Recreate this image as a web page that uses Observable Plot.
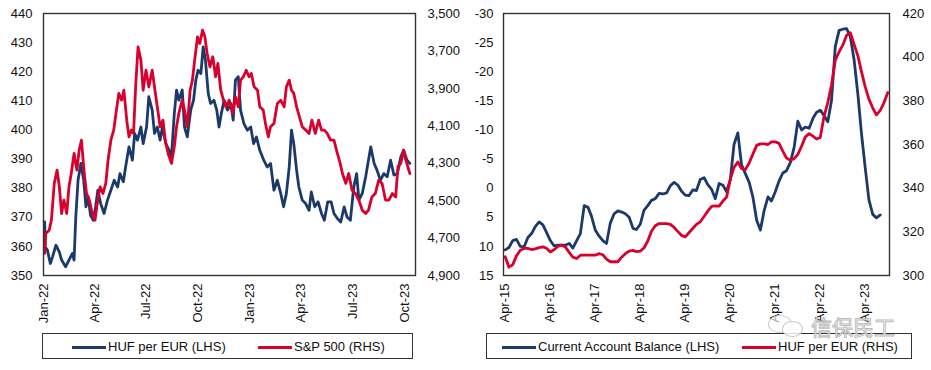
<!DOCTYPE html>
<html>
<head>
<meta charset="utf-8">
<script src="https://cdn.jsdelivr.net/npm/d3@7"></script>
<script src="https://cdn.jsdelivr.net/npm/@observablehq/plot@0.6"></script>
<style>
  body { margin: 0; background: #fff; font-family: "Liberation Sans", Arial, sans-serif; }
  #wrap { position: relative; width: 931px; height: 370px; overflow: hidden; }
  .panel { position: absolute; top: 0; }
  .legend { position: absolute; border: 1px solid #333; box-sizing: border-box; height: 26px; font-size: 13px; color: #111; }
  .item { position: absolute; top: 1px; height: 24px; display: flex; align-items: center; white-space: nowrap; line-height: 14px; }
  .sw { display: inline-block; width: 34px; height: 3px; margin-right: 2px; }
  .wm { position: absolute; z-index: 5; pointer-events: none; }
</style>
</head>
<body>
<div id="wrap">
  <div id="left" class="panel" style="left:0"></div>
  <div id="right" class="panel" style="left:465px"></div>
  <div class="legend" style="left:42px; top:333px; width:371px;">
    <div class="item" style="left:29px"><span class="sw" style="background:#1B3A6B"></span><span id="lg1"></span></div>
    <div class="item" style="left:215px"><span class="sw" style="background:#D9002E"></span><span id="lg2"></span></div>
  </div>
  <div class="legend" style="left:486px; top:333px; width:426px;">
    <div class="item" style="left:15px"><span class="sw" style="background:#1B3A6B"></span><span id="lg3"></span></div>
    <div class="item" style="left:255px"><span class="sw" style="background:#D9002E"></span><span id="lg4"></span></div>
  </div>
  <div class="wm" style="left:768px; top:315px; width:22px; height:16px; border:1.5px solid #c8c8c8; border-radius:50%; background:rgba(255,255,255,0.6)"></div>
  <div class="wm" style="left:782px; top:321px; width:19px; height:14px; border:1.5px solid #c8c8c8; border-radius:50%; background:rgba(255,255,255,0.8)"></div>
  <div class="wm" style="left:811px; top:316px; font-size:21px; line-height:21px; height:21px; font-family:'Noto Sans CJK SC', sans-serif; color:rgba(255,255,255,0.7); -webkit-text-stroke:1px #bdbdbd;">信保民工</div>
</div>
<script>
// ---------------- Left panel data ----------------
const leftSeriesNames = ["HUF per EUR (LHS)", "S&P 500 (RHS)"];
const hufEurDaily = [
["2022-01-03",368.4],["2022-01-04",359.8],["2022-01-08",358.7],["2022-01-13",354.1],["2022-01-17",356.4],
["2022-01-23",360.4],["2022-01-29",358.0],["2022-02-02",355.3],["2022-02-09",353.0],["2022-02-15",355.3],
["2022-02-21",357.6],["2022-02-24",355.3],["2022-02-27",370.0],["2022-03-03",382.7],["2022-03-08",388.5],
["2022-03-13",382.7],["2022-03-17",373.6],["2022-03-21",377.0],["2022-03-25",370.7],["2022-03-30",369.0],
["2022-04-03",373.6],["2022-04-07",379.3],["2022-04-12",374.7],["2022-04-18",371.3],["2022-04-24",375.9],
["2022-04-30",379.3],["2022-05-06",382.7],["2022-05-12",380.4],["2022-05-16",385.0],["2022-05-22",382.2],
["2022-05-26",387.3],["2022-06-01",394.2],["2022-06-07",389.6],["2022-06-11",398.8],["2022-06-16",396.5],
["2022-06-22",401.0],["2022-06-26",395.3],["2022-07-02",401.0],["2022-07-06",411.4],["2022-07-12",406.8],
["2022-07-16",398.8],["2022-07-21",401.0],["2022-07-26",396.5],["2022-07-30",401.0],["2022-08-05",395.3],
["2022-08-11",393.0],["2022-08-15",390.7],["2022-08-20",405.6],["2022-08-24",413.7],["2022-08-28",410.2],
["2022-09-03",413.7],["2022-09-07",401.0],["2022-09-12",397.6],["2022-09-18",406.8],["2022-09-23",410.2],
["2022-09-27",417.1],["2022-10-01",420.5],["2022-10-06",419.4],["2022-10-10",428.5],["2022-10-14",424.0],
["2022-10-19",412.5],["2022-10-23",409.1],["2022-10-29",410.2],["2022-11-03",406.8],["2022-11-07",401.0],
["2022-11-11",405.6],["2022-11-16",410.2],["2022-11-22",406.8],["2022-11-28",409.1],["2022-12-02",403.4],
["2022-12-06",417.1],["2022-12-11",418.3],["2022-12-15",406.8],["2022-12-21",402.2],["2022-12-27",399.9],
["2023-01-02",401.0],["2023-01-07",395.3],["2023-01-12",397.6],["2023-01-18",393.0],["2023-01-25",389.6],
["2023-01-31",387.3],["2023-02-06",388.5],["2023-02-12",379.3],["2023-02-18",382.7],["2023-02-24",378.2],
["2023-03-01",373.6],["2023-03-06",378.2],["2023-03-11",387.3],["2023-03-15",399.9],["2023-03-19",395.3],
["2023-03-24",386.2],["2023-03-28",380.4],["2023-04-03",375.9],["2023-04-09",374.7],["2023-04-15",372.4],
["2023-04-19",378.7],["2023-04-25",373.6],["2023-05-01",375.3],["2023-05-07",371.3],["2023-05-12",369.0],
["2023-05-18",375.3],["2023-05-24",375.3],["2023-05-29",371.3],["2023-06-04",369.6],["2023-06-10",368.4],
["2023-06-16",373.6],["2023-06-21",370.1],["2023-06-27",369.0],["2023-07-03",380.4],["2023-07-08",385.0],
["2023-07-12",375.9],["2023-07-18",378.2],["2023-07-24",383.9],["2023-08-02",394.2],["2023-08-08",388.5],
["2023-08-13",386.2],["2023-08-19",382.7],["2023-08-25",385.0],["2023-08-31",383.9],["2023-09-06",389.6],
["2023-09-12",384.5],["2023-09-18",385.0],["2023-09-24",390.7],["2023-09-29",393.0],["2023-10-05",389.6],
["2023-10-10",388.5]
];
const sp500Daily = [
["2022-01-03",4782],["2022-01-05",4675],["2022-01-11",4658],["2022-01-15",4604],["2022-01-20",4408],
["2022-01-25",4337],["2022-01-29",4426],["2022-02-02",4569],["2022-02-06",4497],["2022-02-11",4569],
["2022-02-15",4426],["2022-02-19",4355],["2022-02-24",4248],["2022-03-01",4337],["2022-03-05",4230],
["2022-03-09",4177],["2022-03-14",4355],["2022-03-18",4462],["2022-03-23",4497],["2022-03-28",4569],
["2022-04-02",4604],["2022-04-06",4515],["2022-04-11",4426],["2022-04-16",4462],["2022-04-21",4408],
["2022-04-25",4284],["2022-04-30",4177],["2022-05-05",4123],["2022-05-09",4034],["2022-05-14",3927],
["2022-05-19",3963],["2022-05-23",3910],["2022-05-28",4070],["2022-06-01",4159],["2022-06-05",4123],
["2022-06-09",4141],["2022-06-13",3874],["2022-06-17",3678],["2022-06-22",3749],["2022-06-26",3910],
["2022-07-01",3803],["2022-07-06",3892],["2022-07-12",3803],["2022-07-16",3892],["2022-07-21",3999],
["2022-07-26",4105],["2022-07-31",4070],["2022-08-04",4177],["2022-08-09",4248],["2022-08-15",4301],
["2022-08-20",4212],["2022-08-24",4105],["2022-08-28",4034],["2022-09-03",3963],["2022-09-07",4016],
["2022-09-12",4105],["2022-09-17",3910],["2022-09-21",3856],["2022-09-25",3749],["2022-09-30",3625],
["2022-10-04",3660],["2022-10-09",3589],["2022-10-13",3625],["2022-10-17",3714],["2022-10-22",3785],
["2022-10-27",3731],["2022-11-01",3838],["2022-11-05",3767],["2022-11-10",3910],["2022-11-15",3963],
["2022-11-19",3999],["2022-11-25",3963],["2022-12-01",4034],["2022-12-06",3945],["2022-12-11",3999],
["2022-12-15",3856],["2022-12-20",3838],["2022-12-25",3803],["2022-12-30",3838],["2023-01-03",3820],
["2023-01-08",3892],["2023-01-14",3910],["2023-01-18",3999],["2023-01-24",4016],["2023-01-28",4088],
["2023-02-02",4159],["2023-02-06",4105],["2023-02-12",4088],["2023-02-18",3981],["2023-02-24",3963],
["2023-03-02",3999],["2023-03-06",3892],["2023-03-11",3856],["2023-03-15",3910],["2023-03-19",3927],
["2023-03-24",3999],["2023-03-29",4052],["2023-04-03",4105],["2023-04-09",4123],["2023-04-15",4141],
["2023-04-20",4070],["2023-04-26",4141],["2023-05-02",4070],["2023-05-07",4123],["2023-05-12",4123],
["2023-05-17",4141],["2023-05-23",4177],["2023-05-29",4177],["2023-06-04",4248],["2023-06-09",4301],
["2023-06-13",4355],["2023-06-19",4408],["2023-06-24",4355],["2023-06-30",4444],["2023-07-06",4462],
["2023-07-12",4497],["2023-07-18",4551],["2023-07-24",4569],["2023-07-29",4551],["2023-08-04",4480],
["2023-08-10",4462],["2023-08-16",4390],["2023-08-22",4408],["2023-08-28",4497],["2023-09-03",4497],
["2023-09-09",4462],["2023-09-15",4480],["2023-09-19",4319],["2023-09-24",4301],["2023-09-29",4230],
["2023-10-03",4284],["2023-10-10",4355]
];
const leftAxisTicks = [350, 360, 370, 380, 390, 400, 410, 420, 430, 440];
const sp500AxisTicks = [3500, 3700, 3900, 4100, 4300, 4500, 4700, 4900];
const leftDateTicks = ["2022-01-01","2022-04-01","2022-07-01","2022-10-01","2023-01-01","2023-04-01","2023-07-01","2023-10-01"];

// ---------------- Right panel data (monthly, from Apr-2015) ----------------
const rightSeriesNames = ["Current Account Balance (LHS)", "HUF per EUR (RHS)"];
const monthlyStart = "2015-04-01";
const currentAccount = [
 10.6,10.2,9.0,8.8,10.0,10.1,8.5,7.8,6.6,5.8,
 6.3,7.6,9.0,9.9,9.8,9.8,9.8,9.5,10.3,9.0,
 7.8,3.0,3.3,4.8,7.2,8.2,9.0,9.5,6.0,4.4,
 3.9,4.1,4.4,5.0,6.9,7.1,6.2,3.8,3.0,2.1,
 1.8,0.9,1.0,0.8,-0.4,-1.0,-0.5,0.5,1.2,1.3,
 0.3,0.4,-1.5,-1.8,-0.6,0.2,1.8,-0.8,-0.5,0.6,
 -1.5,-7.5,-9.5,-4.0,-2.5,-1.0,1.5,5.5,7.2,3.8,
 1.5,2.2,0.6,-1.2,-2.6,-3.0,-4.4,-7.0,-11.5,-10.0,
 -10.5,-10.3,-12.0,-13.0,-13.4,-12.5,-11.4,-15.0,-24.3,-27.1,
 -27.3,-27.4,-26.0,-22.0,-16.0,-9.5,-3.5,2.0,4.5,5.1,
 4.6
];
const hufEurMonthly = [
 308.6,303.8,305.0,309.0,311.6,312.4,312.4,311.9,312.2,312.8,
 313.1,312.5,310.8,311.8,313.3,313.9,313.1,310.6,308.4,307.8,
 309.3,309.3,309.3,309.3,309.3,310.0,309.5,307.5,306.3,306.3,
 306.3,308.4,310.0,311.2,311.5,310.9,311.2,312.6,315.8,320.3,
 322.8,323.8,323.8,323.8,323.4,322.0,320.1,318.4,317.7,319.6,
 321.5,323.4,324.6,327.0,329.5,331.7,331.9,331.8,334.1,335.8,
 344.0,349.5,352.0,349.0,348.5,351.5,355.6,359.6,360.3,360.3,
 360.0,361.2,361.2,360.5,357.0,353.8,352.8,353.5,355.5,359.3,
 363.5,365.0,363.8,362.5,363.2,372.7,379.2,387.1,398.6,402.5,
 405.5,410.0,411.2,405.8,400.5,393.5,386.4,380.8,376.7,373.6,
 375.6,379.2,383.8
];
const caAxisTicks = [-30, -25, -20, -15, -10, -5, 0, 5, 10, 15];
const hufAxisTicks = [300, 320, 340, 360, 380, 400, 420];
const rightDateTicks = ["2015-04-01","2016-04-01","2017-04-01","2018-04-01","2019-04-01","2020-04-01","2021-04-01","2022-04-01","2023-04-01"];

// ---------------- Styles ----------------
const BLUE = "#1B3A6B";
const RED = "#D9002E";
const FONT = "'Liberation Sans', Arial, sans-serif";
const fmtMonth = d3.utcFormat("%b-%y");

document.getElementById("lg1").textContent = leftSeriesNames[0];
document.getElementById("lg2").textContent = leftSeriesNames[1];
document.getElementById("lg3").textContent = rightSeriesNames[0];
document.getElementById("lg4").textContent = rightSeriesNames[1];

// ---------------- Left chart ----------------
const L_MIN = 350, L_MAX = 440, S_MIN = 3500, S_MAX = 4900;
const spToLeft = s => L_MIN + (S_MAX - s) / (S_MAX - S_MIN) * (L_MAX - L_MIN);
const leftToSp = v => S_MAX - (v - L_MIN) / (L_MAX - L_MIN) * (S_MAX - S_MIN);

const hufRows = hufEurDaily.map(([d, v]) => ({date: new Date(d), value: v}));
const spRows = sp500Daily.map(([d, v]) => ({date: new Date(d), value: v}));

const leftChart = Plot.plot({
  width: 465, height: 330,
  marginLeft: 43, marginRight: 50, marginTop: 13, marginBottom: 55,
  style: {fontFamily: FONT, fontSize: "13px", color: "#111", background: "transparent"},
  x: {type: "utc", domain: [new Date("2022-01-01"), new Date("2023-10-20")], axis: null, label: null},
  y: {domain: [L_MIN, L_MAX], axis: null, label: null},
  marks: [
    Plot.axisY(leftAxisTicks, {anchor: "left", tickSize: 0, tickPadding: 11, label: null, tickFormat: d => String(d)}),
    Plot.axisY(sp500AxisTicks.map(spToLeft), {anchor: "right", tickSize: 0, tickPadding: 12, label: null,
      tickFormat: d => d3.format(",")(Math.round(leftToSp(d)))}),
    Plot.axisX(leftDateTicks.map(d => new Date(d)), {anchor: "bottom", tickSize: 0, tickPadding: 8, tickRotate: -90, label: null, tickFormat: fmtMonth}),
    Plot.line(hufRows, {x: "date", y: "value", stroke: BLUE, strokeWidth: 2.8}),
    Plot.line(spRows, {x: "date", y: d => spToLeft(d.value), stroke: RED, strokeWidth: 2.8}),
    Plot.frame({stroke: "#333", strokeWidth: 1.4})
  ]
});
document.getElementById("left").appendChild(leftChart);

// ---------------- Right chart ----------------
const C_BOT = 15, C_TOP = -30, H_MIN = 300, H_MAX = 420;
const hufToCa = h => C_BOT + (h - H_MIN) / (H_MAX - H_MIN) * (C_TOP - C_BOT);
const caToHuf = c => H_MIN + (c - C_BOT) / (C_TOP - C_BOT) * (H_MAX - H_MIN);
const start = new Date(monthlyStart);
const caRows = currentAccount.map((v, i) => ({date: d3.utcMonth.offset(start, i), value: v}));
const hufMRows = hufEurMonthly.map((v, i) => ({date: d3.utcMonth.offset(start, i), value: v}));

const rightChart = Plot.plot({
  width: 466, height: 330,
  marginLeft: 38, marginRight: 42, marginTop: 13, marginBottom: 55,
  style: {fontFamily: FONT, fontSize: "13px", color: "#111", background: "transparent"},
  x: {type: "utc", domain: [new Date("2015-03-18"), new Date("2023-10-15")], axis: null, label: null},
  y: {domain: [C_BOT, C_TOP], axis: null, label: null},
  marks: [
    Plot.axisY(caAxisTicks, {anchor: "left", tickSize: 0, tickPadding: 10, label: null, tickFormat: d => String(d)}),
    Plot.axisY(hufAxisTicks.map(hufToCa), {anchor: "right", tickSize: 0, tickPadding: 13, label: null,
      tickFormat: d => String(Math.round(caToHuf(d)))}),
    Plot.axisX(rightDateTicks.map(d => new Date(d)), {anchor: "bottom", tickSize: 0, tickPadding: 8, tickRotate: -90, label: null, tickFormat: fmtMonth}),
    Plot.line(caRows, {x: "date", y: "value", stroke: BLUE, strokeWidth: 2.8}),
    Plot.line(hufMRows, {x: "date", y: d => hufToCa(d.value), stroke: RED, strokeWidth: 2.8}),
    Plot.frame({stroke: "#333", strokeWidth: 1.4})
  ]
});
document.getElementById("right").appendChild(rightChart);
</script>
</body>
</html>
